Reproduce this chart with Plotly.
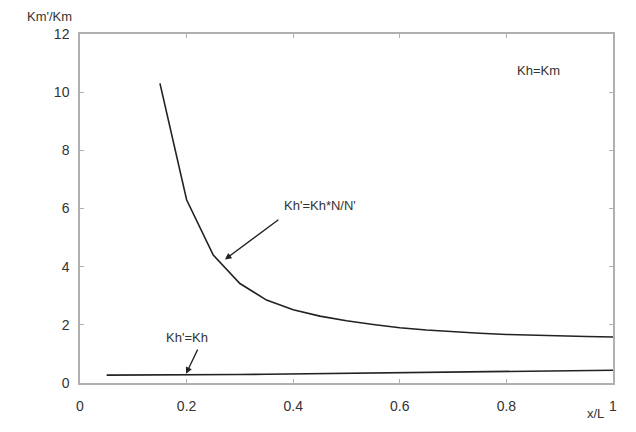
import plotly.graph_objects as go

# Upper curve: Kh' = Kh*N/N'
x_upper = [0.15, 0.2, 0.25, 0.3, 0.35, 0.4, 0.45, 0.5, 0.55, 0.6, 0.65, 0.7, 0.75, 0.8, 0.85, 0.9, 0.95, 1.0]
y_upper = [10.3, 6.3, 4.4, 3.42, 2.85, 2.52, 2.3, 2.14, 2.01, 1.9, 1.82, 1.76, 1.71, 1.67, 1.64, 1.62, 1.6, 1.58]

# Lower curve: Kh' = Kh
x_lower = [0.05, 0.1, 0.15, 0.2, 0.25, 0.3, 0.35, 0.4, 0.45, 0.5, 0.55, 0.6, 0.65, 0.7, 0.75, 0.8, 0.85, 0.9, 0.95, 1.0]
y_lower = [0.27, 0.27, 0.275, 0.28, 0.285, 0.29, 0.3, 0.31, 0.32, 0.33, 0.34, 0.35, 0.36, 0.37, 0.38, 0.39, 0.4, 0.41, 0.43, 0.44]

x_ticks = [0, 0.2, 0.4, 0.6, 0.8, 1]
x_ticklabels = ["0", "0.2", "0.4", "0.6", "0.8", "1"]
y_ticks = [0, 2, 4, 6, 8, 10, 12]

FONT = "Liberation Sans, Arial, sans-serif"
AXC = "#b0b0b0"
TXT = "#333333"

# page has an 8px body margin; figure sized to fit the window
OFF = 8
W, H = 628, 424
ml, mr, mt, mb = 80 - OFF, 23, 34 - OFF, 49
pw, ph = W - ml - mr, H - mt - mb

fig = go.Figure()
fig.add_trace(go.Scatter(x=x_upper, y=y_upper, mode="lines",
                         line=dict(color="#222222", width=1.6), showlegend=False))
fig.add_trace(go.Scatter(x=x_lower, y=y_lower, mode="lines",
                         line=dict(color="#222222", width=1.6), showlegend=False))

fig.update_xaxes(range=[0, 1], tickvals=x_ticks, ticktext=x_ticklabels,
                 showgrid=False, zeroline=False, showline=True, linecolor=AXC, linewidth=1.5,
                 mirror="ticks", ticks="inside", ticklen=4, tickcolor=AXC,
                 ticklabelstandoff=9,
                 tickfont=dict(family=FONT, size=14, color=TXT))
fig.update_yaxes(range=[0, 12], tickvals=y_ticks,
                 showgrid=False, zeroline=False, showline=True, linecolor=AXC, linewidth=1.5,
                 mirror="ticks", ticks="inside", ticklen=4, tickcolor=AXC,
                 ticklabelstandoff=6,
                 tickfont=dict(family=FONT, size=14, color=TXT))


def px_to_paper(px, py):
    # px, py are page pixel coordinates in the reference
    fx, fy = px - OFF, py - OFF
    return (fx - ml) / pw, (H - mb - fy) / ph


kx, ky = px_to_paper(26, OFF)
lx, ly = px_to_paper(606, 423)

annots = [
    dict(x=0.272, y=4.25, ax=0.375, ay=5.65, axref="x", ayref="y", xref="x", yref="y",
         text="", showarrow=True, arrowhead=2, arrowsize=1, arrowwidth=1.3, arrowcolor="#222"),
    dict(x=0.45, y=6.1, xref="x", yref="y", text="Kh'=Kh*N/N'", showarrow=False,
         font=dict(family=FONT, size=13, color=TXT)),
    dict(x=0.199, y=0.32, ax=0.222, ay=1.2, axref="x", ayref="y", xref="x", yref="y",
         text="", showarrow=True, arrowhead=2, arrowsize=1, arrowwidth=1.3, arrowcolor="#222"),
    dict(x=0.2, y=1.55, xref="x", yref="y", text="Kh'=Kh", showarrow=False,
         font=dict(family=FONT, size=13, color=TXT)),
    dict(x=0.86, y=10.75, xref="x", yref="y", text="Kh=Km", showarrow=False,
         font=dict(family=FONT, size=13, color=TXT)),
    dict(x=kx, y=ky, xref="paper", yref="paper", yanchor="top", borderpad=0,
         text="Km'/Km", showarrow=False,
         font=dict(family=FONT, size=13, color=TXT)),
    dict(x=lx, y=ly, xref="paper", yref="paper", text="x/L", showarrow=False,
         font=dict(family=FONT, size=13, color=TXT)),
]

fig.update_layout(width=W, height=H, margin=dict(l=ml, r=mr, t=mt, b=mb),
                  paper_bgcolor="white", plot_bgcolor="white",
                  annotations=annots, showlegend=False)

fig.write_html("out.html")
